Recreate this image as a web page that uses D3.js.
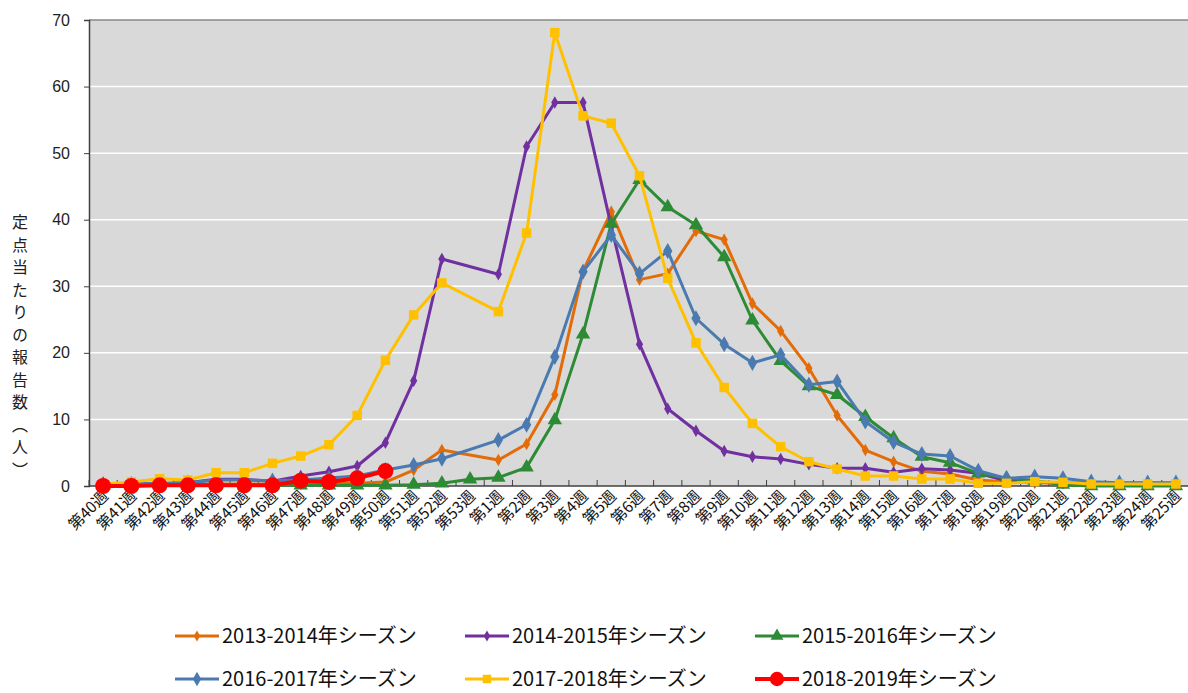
<!DOCTYPE html>
<html>
<head>
<meta charset="utf-8">
<script src="https://cdn.jsdelivr.net/npm/d3@7"></script>
<style>
  body { margin: 0; background: #fff; }
  svg { display: block; font-family: "Noto Sans CJK JP", "Noto Sans", sans-serif; }
</style>
</head>
<body>
<svg id="chart"></svg>
<script>
// weeks of the season (week 53 only exists in 2015-2016)
const weeks = ["第40週","第41週","第42週","第43週","第44週","第45週","第46週","第47週","第48週","第49週","第50週","第51週","第52週","第53週",
  "第1週","第2週","第3週","第4週","第5週","第6週","第7週","第8週","第9週","第10週","第11週","第12週","第13週","第14週","第15週",
  "第16週","第17週","第18週","第19週","第20週","第21週","第22週","第23週","第24週","第25週"];

const s2013 = [0.2,0.2,0.3,0.3,0.3,0.3,0.3,0.3,0.4,0.4,0.6,2.4,5.4,null,
  3.9,6.3,13.7,32.3,41.2,31.0,31.9,38.3,37.0,27.4,23.3,17.7,10.6,5.4,3.65,
  2.2,1.8,0.9,0.6,0.5,0.4,0.3,0.3,0.3,0.3];
const s2014 = [0.3,0.3,0.3,0.5,1.0,1.0,0.7,1.5,2.15,3.0,6.5,15.8,34.1,null,
  31.8,51.0,57.6,57.6,39.0,21.3,11.6,8.3,5.25,4.4,4.05,3.25,2.65,2.65,2.05,
  2.6,2.4,1.9,0.8,0.6,0.5,0.4,0.4,0.4,0.4];
const s2015 = [0.1,0.1,0.1,0.1,0.1,0.1,0.1,0.1,0.1,0.1,0.1,0.2,0.4,1.0,
  1.25,2.8,9.9,22.8,39.4,46.0,41.9,39.2,34.4,24.9,18.8,15.0,13.7,10.4,7.2,
  4.4,3.5,1.9,1.15,0.8,0.2,0.0,0.0,0.0,0.0];
const s2016 = [0.3,0.3,0.4,0.5,0.9,0.9,0.8,0.9,1.2,1.5,2.4,3.15,4.1,null,
  6.9,9.2,19.4,32.2,37.7,31.9,35.3,25.2,21.3,18.5,19.7,15.2,15.7,9.7,6.6,
  4.8,4.5,2.3,1.15,1.4,1.15,0.65,0.5,0.5,0.5];
const s2017 = [0.3,0.6,1.1,0.9,2.0,2.0,3.4,4.5,6.2,10.6,18.9,25.7,30.5,null,
  26.2,38.0,68.1,55.6,54.5,46.6,31.2,21.5,14.8,9.4,5.9,3.65,2.55,1.5,1.5,
  1.05,1.05,0.4,0.4,0.65,0.55,0.3,0.3,0.3,0.3];
const s2018 = [0,0,0.1,0.1,0.1,0.1,0.1,0.8,0.6,1.15,2.25];

const yTicks = [0,10,20,30,40,50,60,70];

const series = [
  {name: "2013-2014年シーズン", values: s2013, color: "#e36c09", marker: "diamond", size: 45, width: 3},
  {name: "2014-2015年シーズン", values: s2014, color: "#7030a0", marker: "diamond", size: 45, width: 3},
  {name: "2015-2016年シーズン", values: s2015, color: "#2e8b35", marker: "triangle", size: 90, width: 3},
  {name: "2016-2017年シーズン", values: s2016, color: "#4a7ab0", marker: "diamond", size: 75, width: 3},
  {name: "2017-2018年シーズン", values: s2017, color: "#ffc000", marker: "square", size: 90, width: 3},
  {name: "2018-2019年シーズン", values: s2018, color: "#ff0000", marker: "circle", size: 200, width: 4}
];

const width = 1188, height = 693;
const margin = {top: 20, right: -2, bottom: 207, left: 89};

const svg = d3.select("#chart").attr("width", width).attr("height", height);

const x = d3.scaleBand()
  .domain(weeks)
  .range([margin.left, width - margin.right]);

const y = d3.scaleLinear()
  .domain([0, 70])
  .range([height - margin.bottom, margin.top]);

// plot background
svg.append("rect")
  .attr("x", margin.left).attr("y", margin.top)
  .attr("width", width - margin.right - margin.left)
  .attr("height", y(0) - margin.top)
  .attr("fill", "#d9d9d9");

// grid
svg.append("g")
  .selectAll("line")
  .data(yTicks.slice(1, -1))
  .enter().append("line")
  .attr("x1", margin.left).attr("x2", width - margin.right)
  .attr("y1", d => y(d)).attr("y2", d => y(d))
  .attr("stroke", "#fff").attr("stroke-width", 1.5);

svg.append("line")
  .attr("x1", margin.left).attr("x2", width)
  .attr("y1", y(70)).attr("y2", y(70))
  .attr("stroke", "#888").attr("stroke-width", 1.5);

// y axis
const yAxis = svg.append("g")
  .attr("transform", `translate(${margin.left},0)`)
  .call(d3.axisLeft(y).tickValues(yTicks).tickSize(5).tickPadding(14));
yAxis.select(".domain").attr("stroke", "#404040").attr("stroke-width", 1.5);
yAxis.selectAll(".tick line").attr("stroke", "#404040");
yAxis.selectAll("text").attr("font-size", 16).attr("fill", "#222");

// x axis with ticks between categories, pointing up
const xAxis = svg.append("g").attr("transform", `translate(0,${y(0)})`);
xAxis.append("line")
  .attr("x1", margin.left).attr("x2", width)
  .attr("stroke", "#404040").attr("stroke-width", 1.5);
xAxis.selectAll(".tk")
  .data(weeks)
  .enter().append("line")
  .attr("x1", d => x(d)).attr("x2", d => x(d))
  .attr("y1", 0).attr("y2", -6)
  .attr("stroke", "#404040");
xAxis.selectAll("text")
  .data(weeks)
  .enter().append("text")
  .attr("transform", d => `translate(${x(d) + x.bandwidth() / 2 + 6},${11}) rotate(-45)`)
  .attr("text-anchor", "end")
  .attr("font-size", 15.5)
  .attr("fill", "#111")
  .text(d => d);

// y axis title (vertical)
svg.append("text")
  .attr("x", 20).attr("y", 214)
  .attr("font-size", 16)
  .attr("fill", "#222")
  .style("writing-mode", "vertical-rl")
  .style("letter-spacing", "6.5px")
  .text("定点当たりの報告数（人）");

const symbolOf = m => ({diamond: d3.symbolDiamond, triangle: d3.symbolTriangle, square: d3.symbolSquare, circle: d3.symbolCircle})[m];

const line = d3.line()
  .x(d => x(d.week) + x.bandwidth() / 2)
  .y(d => y(d.v));

series.forEach(s => {
  const pts = s.values.map((v, i) => ({week: weeks[i], v})).filter(d => d.v != null);
  const g = svg.append("g");
  g.append("path")
    .datum(pts)
    .attr("fill", "none")
    .attr("stroke", s.color)
    .attr("stroke-width", s.width)
    .attr("stroke-linejoin", "round")
    .attr("d", line);
  g.selectAll("path.m")
    .data(pts)
    .enter().append("path")
    .attr("class", "m")
    .attr("transform", d => `translate(${x(d.week) + x.bandwidth() / 2},${y(d.v)})`)
    .attr("d", d3.symbol().type(symbolOf(s.marker)).size(s.size))
    .attr("fill", s.color);
});

// legend
const legX = [175, 465, 755], legY = [636, 679];
const leg = svg.append("g");
series.forEach((s, i) => {
  const lx = legX[i % 3], ly = legY[Math.floor(i / 3)];
  const g = leg.append("g").attr("transform", `translate(${lx},${ly})`);
  g.append("line").attr("x1", 0).attr("x2", 44)
    .attr("stroke", s.color).attr("stroke-width", s.width);
  g.append("path")
    .attr("transform", "translate(22,0)")
    .attr("d", d3.symbol().type(symbolOf(s.marker)).size(s.size * 0.8))
    .attr("fill", s.color);
  g.append("text")
    .attr("x", 47).attr("y", 7)
    .attr("font-size", 20)
    .attr("fill", "#111")
    .text(s.name);
});
</script>
</body>
</html>
